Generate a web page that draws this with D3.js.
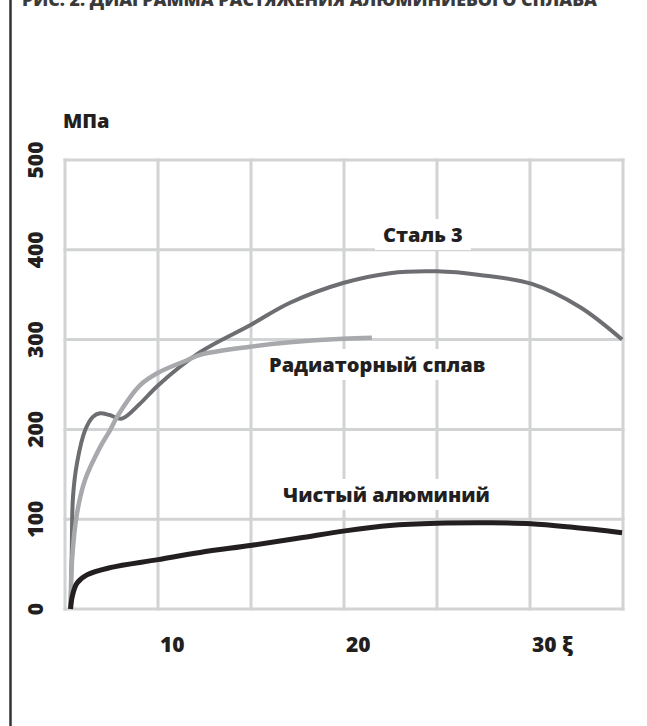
<!DOCTYPE html>
<html><head><meta charset="utf-8">
<script src="https://cdn.jsdelivr.net/npm/d3@7"></script>
<style>body{margin:0;background:#fff}svg{display:block}text{font-family:"Open Sans",sans-serif;font-weight:800;fill:#231f20}</style>
</head><body>
<script>
const title = "РИС. 2. ДИАГРАММА РАСТЯЖЕНИЯ АЛЮМИНИЕВОГО СПЛАВА";
const yUnit = "МПа";
const xTicks = [10, 20, 30];
const xTickLabels = ["10", "20", "30 ξ"];
const yTicks = [0, 100, 200, 300, 400, 500];
const xGrid = [5, 10, 15, 20, 25, 30, 35];
const seriesNames = ["Сталь 3", "Радиаторный сплав", "Чистый алюминий"];
const steelStrain = [5.3, 5.36, 5.43, 5.65, 6.08, 6.5, 6.88, 7.4, 8.06, 9.0, 10.0, 12.26, 14.95, 17.1, 19.95, 22.47, 25.0, 27.3, 30.1, 32.7, 34.95];
const steelStress = [0, 60, 125, 163, 199, 214, 218, 216, 212, 228, 249, 286, 316, 341, 363, 374, 376, 372, 362, 336, 300];
const alloyStrain = [5.3, 5.38, 5.65, 6.08, 6.88, 7.42, 7.8, 9.03, 10.0, 11.56, 12.26, 14.95, 17.1, 19.95, 21.5];
const alloyStress = [0, 55, 107, 144, 180, 199, 214, 249, 263, 277, 283, 292, 297, 301, 302];
const alumStrain = [5.3, 5.4, 5.65, 6.18, 7.42, 10.0, 12.26, 15.05, 17.6, 20.05, 22.47, 25.0, 27.85, 30.05, 32.3, 34.95];
const alumStress = [0, 15, 29, 38, 46, 55, 63, 71, 79, 87, 93, 95.5, 96, 95, 91, 85];

const W = 647, H = 726;
const svg = d3.select("body").append("svg").attr("width", W).attr("height", H);

const x = d3.scaleLinear().domain([5, 35]).range([65, 623]);
const y = d3.scaleLinear().domain([0, 500]).range([609, 160]);

// left border
svg.append("line").attr("x1", 10.5).attr("x2", 10.5).attr("y1", 0).attr("y2", H)
  .attr("stroke", "#333").attr("stroke-width", 2.5);

// title (cut off at top, as in the original)
svg.append("text").attr("x", 22).attr("y", 6).attr("font-size", 17)
  .attr("textLength", 575).attr("lengthAdjust", "spacingAndGlyphs")
  .style("fill", "#3a3a3a").text(title);

// grid
const grid = svg.append("g").attr("stroke", "#d1d3d4").attr("stroke-width", 3);
grid.selectAll("line.v").data(xGrid).join("line").attr("class", "v")
  .attr("x1", d => x(d)).attr("x2", d => x(d)).attr("y1", y(500) - 1.5).attr("y2", y(0) + 1.5);
grid.selectAll("line.h").data(yTicks).join("line").attr("class", "h")
  .attr("x1", x(5) - 1.5).attr("x2", x(35) + 1.5).attr("y1", d => y(d)).attr("y2", d => y(d));

// y tick labels (rotated)
svg.selectAll("text.yt").data(yTicks).join("text").attr("class", "yt")
  .attr("transform", d => `translate(43,${y(d)}) rotate(-90)`)
  .attr("text-anchor", "middle").attr("font-size", 21).text(d => d);

svg.append("text").attr("x", 63).attr("y", 128).attr("font-size", 20).text(yUnit);

// x tick labels
svg.selectAll("text.xt").data(xTicks).join("text").attr("class", "xt")
  .attr("x", d => x(d) + 2).attr("y", 652).attr("font-size", 21)
  .text((d, i) => xTickLabels[i]);

// curves
const line = d3.line().x(d => x(d[0])).y(d => y(d[1])).curve(d3.curveCatmullRom.alpha(0.5));
const series = [
  {s: steelStrain, v: steelStress, color: "#6d6e71", w: 4},
  {s: alloyStrain, v: alloyStress, color: "#a7a9ac", w: 4.5},
  {s: alumStrain, v: alumStress, color: "#231f20", w: 5}
];
series.forEach(se => {
  svg.append("path").datum(d3.zip(se.s, se.v)).attr("d", line)
    .attr("fill", "none").attr("stroke", se.color).attr("stroke-width", se.w);
});

// series labels with white boxes
const labelPos = [[383, 242], [269, 372], [283, 502]];
seriesNames.forEach((n, i) => {
  const g = svg.append("g");
  const t = g.append("text").attr("x", labelPos[i][0]).attr("y", labelPos[i][1]).attr("font-size", 20).text(n);
  const bb = t.node().getBBox();
  g.insert("rect", "text").attr("x", bb.x - 8).attr("y", bb.y - 2).attr("width", bb.width + 16).attr("height", bb.height + 4).attr("fill", "#fff");
});
</script>
</body></html>
